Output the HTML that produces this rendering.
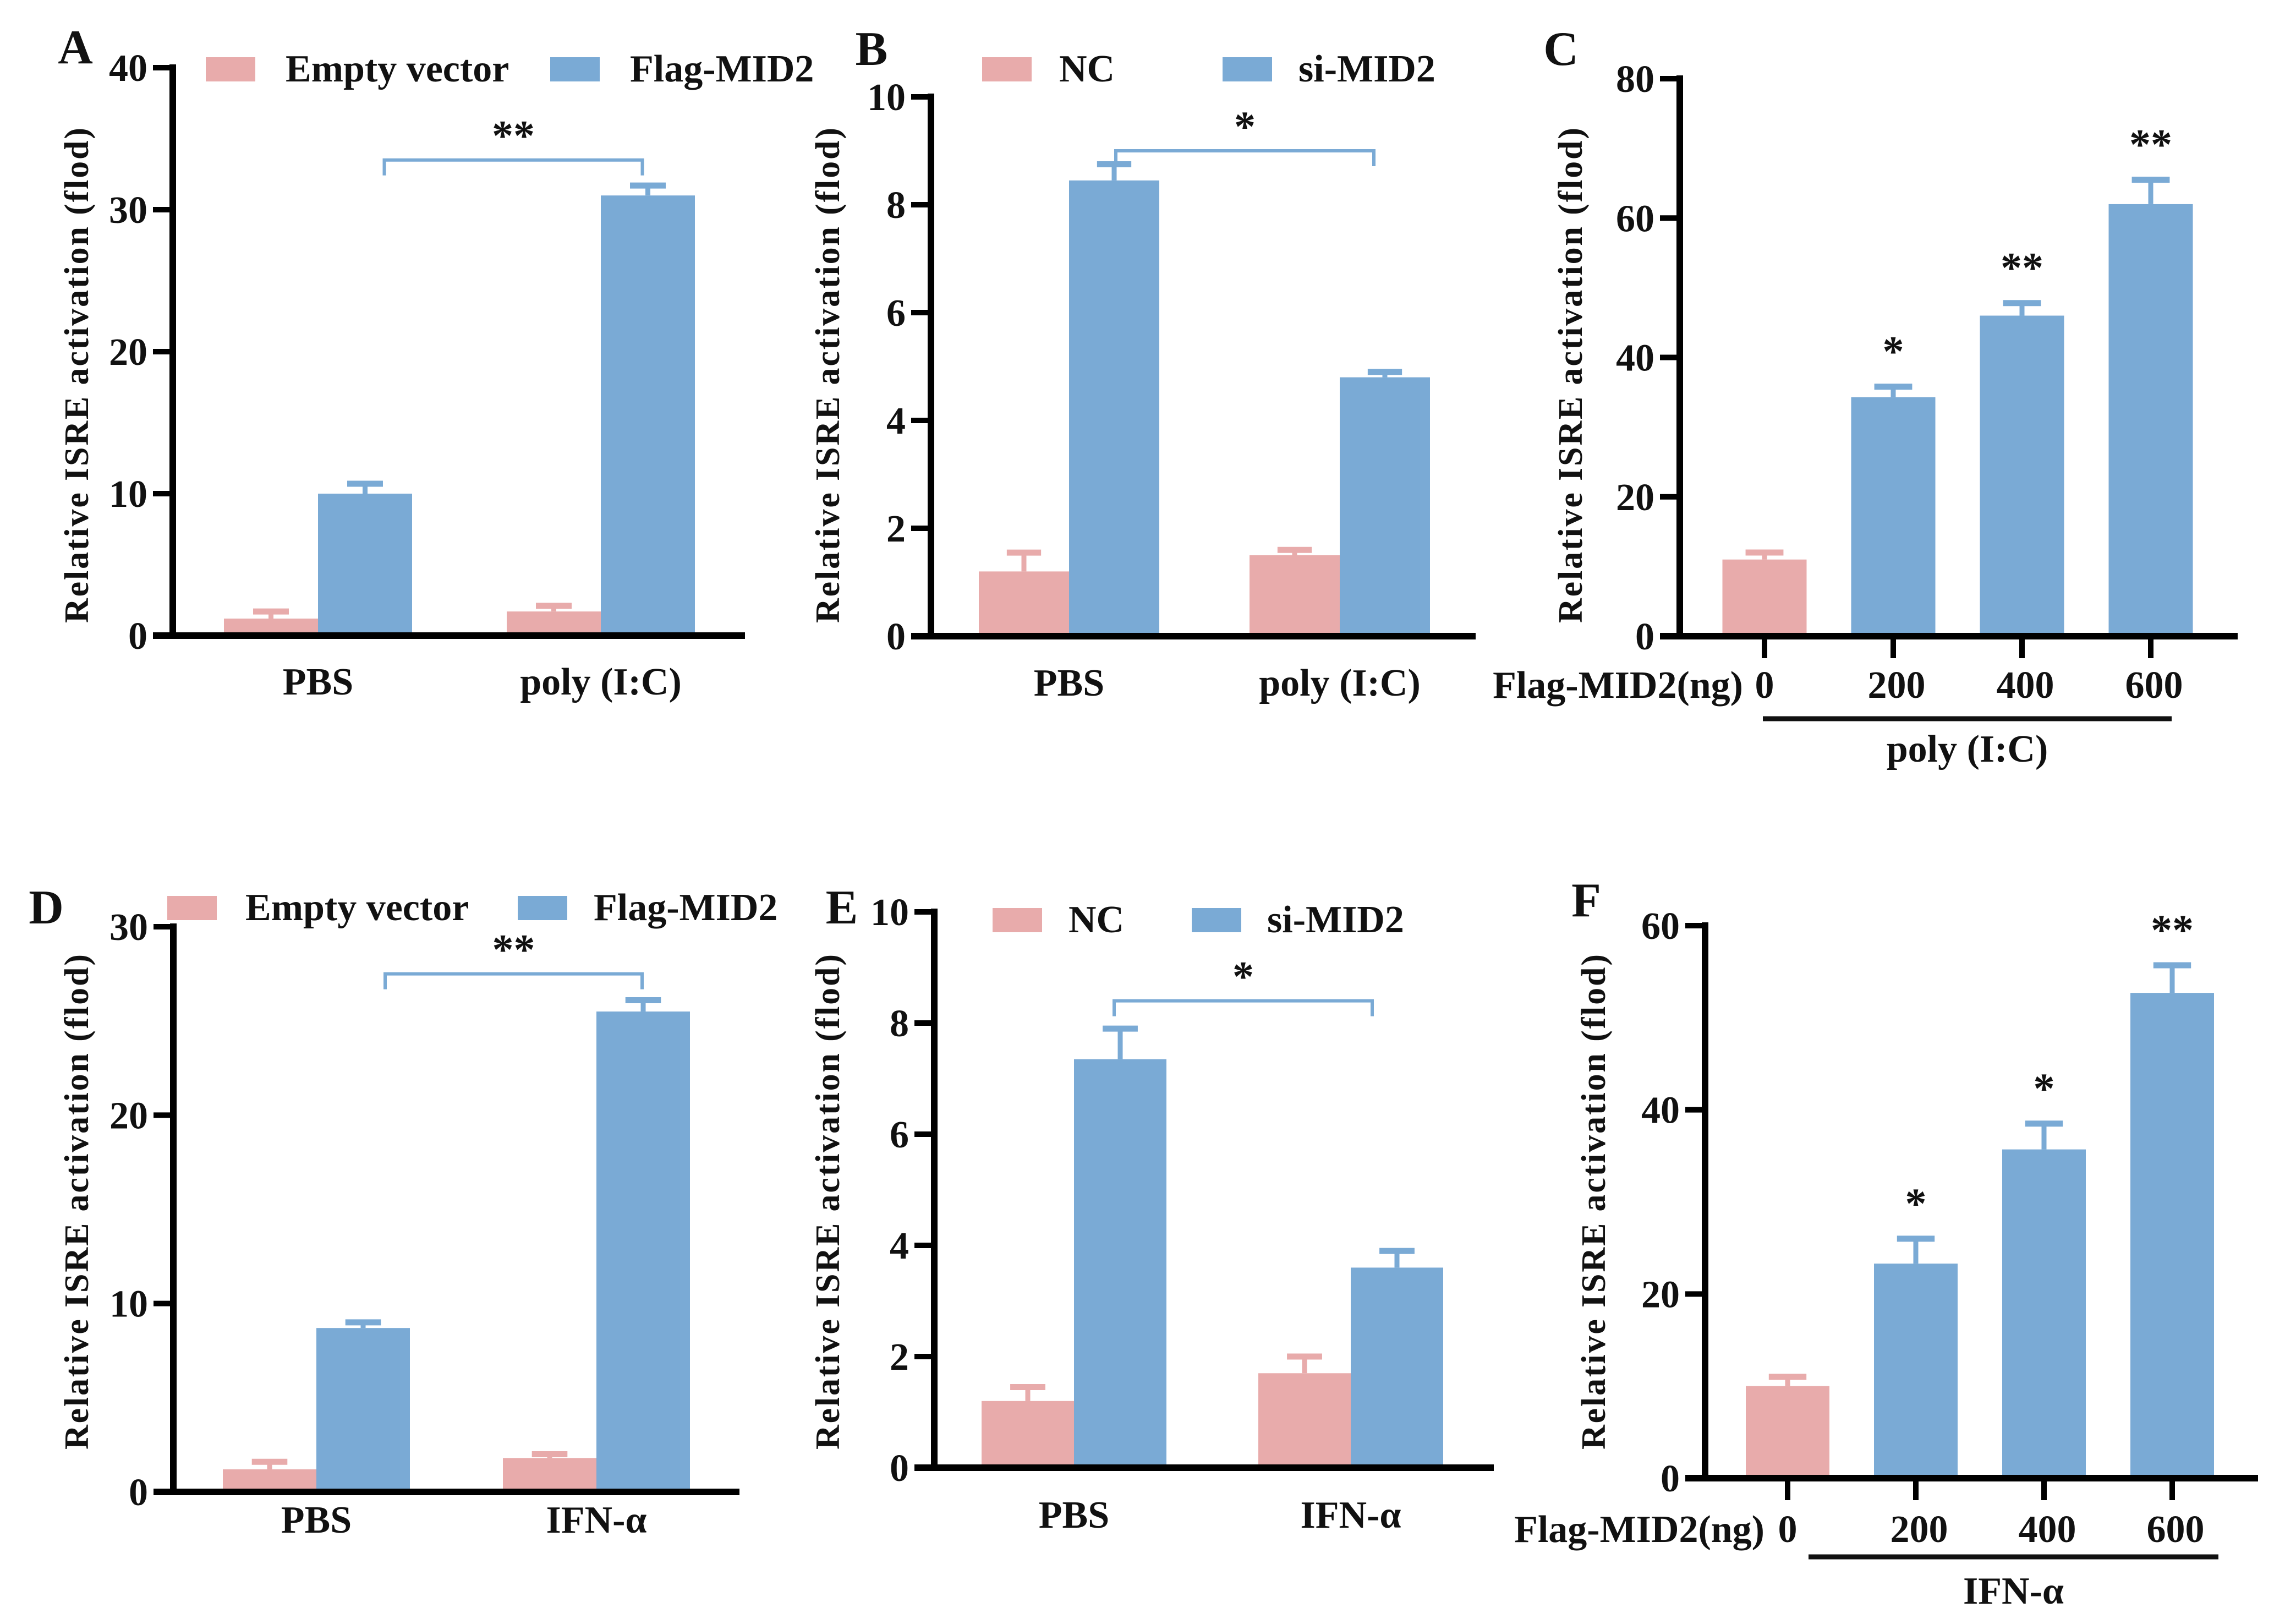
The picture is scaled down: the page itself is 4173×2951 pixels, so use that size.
<!DOCTYPE html>
<html><head><meta charset="utf-8"><style>
html,body{margin:0;padding:0;background:#fff;}
svg{display:block;font-family:"Liberation Serif","Times New Roman",serif;font-weight:bold;}
</style></head><body>
<svg id="fig" width="4173" height="2951" viewBox="0 0 4173 2951" xmlns="http://www.w3.org/2000/svg"></svg>
<script>
// ---- Panel A data ----
const A_categories = ["PBS", "poly (I:C)"];
const A_series = ["Empty vector", "Flag-MID2"];
const A_empty = [1.2, 1.7];
const A_emptyErr = [0.5, 0.4];
const A_flag = [10, 31];
const A_flagErr = [0.7, 0.7];
const A_ticks = [0, 10, 20, 30, 40];
const A_sig = "**";
// ---- Panel B data ----
const B_categories = ["PBS", "poly (I:C)"];
const B_series = ["NC", "si-MID2"];
const B_nc = [1.2, 1.5];
const B_ncErr = [0.35, 0.1];
const B_si = [8.45, 4.8];
const B_siErr = [0.3, 0.1];
const B_ticks = [0, 2, 4, 6, 8, 10];
const B_sig = "*";
// ---- Panel C data ----
const C_doses = ["0", "200", "400", "600"];
const C_values = [11, 34.3, 46, 62];
const C_err = [1, 1.5, 1.8, 3.5];
const C_stars = ["", "*", "**", "**"];
const C_ticks = [0, 20, 40, 60, 80];
// ---- Panel D data ----
const D_categories = ["PBS", "IFN-\u03b1"];
const D_series = ["Empty vector", "Flag-MID2"];
const D_empty = [1.2, 1.8];
const D_emptyErr = [0.4, 0.2];
const D_flag = [8.7, 25.5];
const D_flagErr = [0.3, 0.6];
const D_ticks = [0, 10, 20, 30];
const D_sig = "**";
// ---- Panel E data ----
const E_categories = ["PBS", "IFN-\u03b1"];
const E_series = ["NC", "si-MID2"];
const E_nc = [1.2, 1.7];
const E_ncErr = [0.25, 0.3];
const E_si = [7.35, 3.6];
const E_siErr = [0.55, 0.3];
const E_ticks = [0, 2, 4, 6, 8, 10];
const E_sig = "*";
// ---- Panel F data ----
const F_doses = ["0", "200", "400", "600"];
const F_values = [10, 23.3, 35.7, 52.7];
const F_err = [1, 2.7, 2.8, 3];
const F_stars = ["", "*", "*", "**"];
const F_ticks = [0, 20, 40, 60];

const PINK = "#e8abab", BLUE = "#7aaad5";
const svg = document.getElementById("fig");
const NS = "http://www.w3.org/2000/svg";
function el(tag, attrs, parent) {
  const e = document.createElementNS(NS, tag);
  for (const k in attrs) e.setAttribute(k, attrs[k]);
  (parent || svg).appendChild(e);
  return e;
}
function txt(s, x, y, size, anchor, parent) {
  const t = el("text", {x: x, y: y, "font-size": size, "text-anchor": anchor || "middle", fill: "#111"}, parent);
  t.textContent = s;
  return t;
}

function axes(g, L, ticks, ymax, name) {
  const ys = v => L.y0 - (v / ymax) * (L.y0 - L.yTop);
  const ax = el("line", {x1: L.ax, y1: L.yTop - 6, x2: L.ax, y2: L.y0 + 6, stroke: "#000", "stroke-width": 12}, g);
  
  
  const xa = el("line", {x1: L.ax - 36, y1: L.y0, x2: L.xEnd, y2: L.y0, stroke: "#000", "stroke-width": 12}, g);
  
  
  ticks.forEach(v => {
    const y = ys(v);
    const tk = el("line", {x1: L.ax - 36, y1: y, x2: L.ax, y2: y, stroke: "#000", "stroke-width": 10}, g);
    
    
    const lb = txt(String(v), L.ax - 46, y + 24, 70, "end", g);
    
    
  });
  const yl = el("text", {x: 0, y: 0, "font-size": 62, "text-anchor": "middle", fill: "#111",
    transform: "translate(" + (L.ylx + 22) + "," + L.ylc + ") rotate(-90)", textLength: L.yll, lengthAdjust: "spacing"}, g);
  yl.textContent = "Relative ISRE activation (flod)";
  
  
  const pl = txt(L.letter, L.lx, L.ly + 30, 88, "middle", g);
  
  
  return ys;
}

function errBar(g, cx, yTopPx, yErrPx, w, color, name) {
  const v = el("line", {x1: cx, y1: yTopPx, x2: cx, y2: yErrPx, stroke: color, "stroke-width": 9}, g);
  
  
  const c = el("line", {x1: cx - w / 2, y1: yErrPx, x2: cx + w / 2, y2: yErrPx, stroke: color, "stroke-width": 11}, g);
  
  
}

function grouped(L, cats, series, v1, e1, v2, e2, ticks, sig, name) {
  const g = el("g", {});
  
  
  const ymax = ticks[ticks.length - 1];
  const ys = axes(g, L, ticks, ymax, name);
  const xc = i => L.c0 + i * L.step;
  cats.forEach((c, i) => {
    const cx = xc(i);
    [[v1, e1, PINK, -1, "pink"], [v2, e2, BLUE, 0, "blue"]].forEach(([vals, errs, col, off, nm]) => {
      const x = cx + off * L.bw;
      const y = ys(vals[i]);
      errBar(g, x + L.bw / 2, y, ys(vals[i] + errs[i]), L.bw * 0.38, col, name + "-" + nm + "-" + i);
      const r = el("rect", {x: x, y: y, width: L.bw, height: L.y0 - 6 - y, fill: col}, g);
      
      
    });
    const cl = txt(c, cx, L.catY, 70, "middle", g);
    
    
  });
  // significance bracket between the blue bars
  const bx1 = xc(0) + L.bw / 2 - L.bInset, bx2 = xc(1) + L.bw / 2 - L.bInset2;
  const bTop = ys(L.bLevel);
  const br = el("path", {d: "M" + bx1 + "," + (bTop + 28) + " V" + bTop + " H" + bx2 + " V" + (bTop + 28), fill: "none", stroke: BLUE, "stroke-width": 6}, g);
  
  
  const st = txt(sig, (bx1 + bx2) / 2, bTop - 18, 78, "middle", g);
  
  
  // legend
  [[PINK, series[0], L.lg[0], L.lg[1]], [BLUE, series[1], L.lg[2], L.lg[3]]].forEach(([col, s, sx, tx], k) => {
    const sw = el("rect", {x: sx, y: L.lgY, width: 90, height: 44, fill: col}, g);
    
    
    const lt = txt(s, tx, L.lgY + 44, 70, "start", g);
    
    
  });
}

function dose(L, doses, vals, errs, stars, ticks, treat, name) {
  const g = el("g", {});
  
  
  const ymax = ticks[ticks.length - 1];
  const ys = axes(g, L, ticks, ymax, name);
  const xc = i => L.c0 + i * L.step;
  doses.forEach((d, i) => {
    const cx = xc(i);
    const col = i === 0 ? PINK : BLUE;
    const y = ys(vals[i]);
    errBar(g, cx, y, ys(vals[i] + errs[i]), L.bw * 0.45, col, name + "-" + i);
    const r = el("rect", {x: cx - L.bw / 2, y: y, width: L.bw, height: L.y0 - 6 - y, fill: col}, g);
    
    
    const tk = el("line", {x1: cx, y1: L.y0, x2: cx, y2: L.y0 + 40, stroke: "#000", "stroke-width": 10}, g);
    
    
    const dl = txt(d, cx + (i === 0 ? 0 : 6), L.numY, 70, "middle", g);
    
    
    if (stars[i]) {
      const st = txt(stars[i], cx, ys(vals[i] + errs[i]) - 38, 78, "middle", g);
      
      
    }
  });
  const fl = txt("Flag-MID2(ng)", L.flagR, L.numY, 70, "end", g);
  
  
  const ul = el("line", {x1: L.ul[0], y1: L.ulY, x2: L.ul[1], y2: L.ulY, stroke: "#111", "stroke-width": 9}, g);
  
  
  const tl = txt(treat, (L.ul[0] + L.ul[1]) / 2, L.treatY, 70, "middle", g);
  
  
}

grouped({ax: 314, xEnd: 1354, y0: 1155, yTop: 123, c0: 578, step: 514, bw: 171, catY: 1262,
  ylx: 138, ylc: 682, yll: 900, letter: "A", lx: 137, ly: 85,
  bLevel: 33.5, bInset: -35, bInset2: 10, lgY: 104, lg: [374, 519, 1000, 1145]},
  A_categories, A_series, A_empty, A_emptyErr, A_flag, A_flagErr, A_ticks, A_sig, "panel-a");

grouped({ax: 1692, xEnd: 2682, y0: 1156, yTop: 176, c0: 1943, step: 492, bw: 164, catY: 1264,
  ylx: 1503, ylc: 682, yll: 900, letter: "B", lx: 1584, ly: 88,
  bLevel: 9.0, bInset: -3, bInset2: 20, lgY: 104, lg: [1785, 1925, 2222, 2360]},
  B_categories, B_series, B_nc, B_ncErr, B_si, B_siErr, B_ticks, B_sig, "panel-b");

dose({ax: 3053, xEnd: 4067, y0: 1156, yTop: 143, c0: 3207, step: 234, bw: 153,
  ylx: 2853, ylc: 682, yll: 900, letter: "C", lx: 2837, ly: 88,
  numY: 1268, flagR: 3168, ul: [3204, 3947], ulY: 1306, treatY: 1384},
  C_doses, C_values, C_err, C_stars, C_ticks, "poly (I:C)", "panel-c");

grouped({ax: 315, xEnd: 1344, y0: 2711, yTop: 1684, c0: 575, step: 509, bw: 170, catY: 2785,
  ylx: 138, ylc: 2184, yll: 900, letter: "D", lx: 84, ly: 1648,
  bLevel: 27.5, bInset: -40, bInset2: 2, lgY: 1628, lg: [304, 446, 941, 1079]},
  D_categories, D_series, D_empty, D_emptyErr, D_flag, D_flagErr, D_ticks, D_sig, "panel-d");

grouped({ax: 1698, xEnd: 2715, y0: 2667, yTop: 1657, c0: 1952, step: 503, bw: 168, catY: 2776,
  ylx: 1503, ylc: 2184, yll: 900, letter: "E", lx: 1530, ly: 1648,
  bLevel: 8.4, bInset: 11, bInset2: 45, lgY: 1650, lg: [1804, 1942, 2166, 2303]},
  E_categories, E_series, E_nc, E_ncErr, E_si, E_siErr, E_ticks, E_sig, "panel-e");

dose({ax: 3099, xEnd: 4104, y0: 2686, yTop: 1682, c0: 3249, step: 233, bw: 152,
  ylx: 2895, ylc: 2184, yll: 900, letter: "F", lx: 2883, ly: 1635,
  numY: 2802, flagR: 3207, ul: [3287, 4032], ulY: 2829, treatY: 2914},
  F_doses, F_values, F_err, F_stars, F_ticks, "IFN-\u03b1", "panel-f");
</script>
</body></html>
